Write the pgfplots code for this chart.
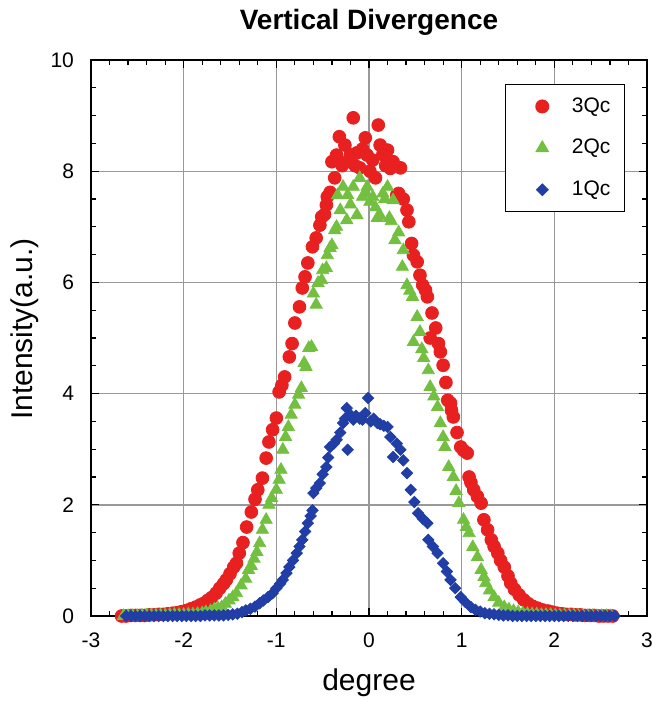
\documentclass[border=0pt]{standalone}
\usepackage{fontspec}
\setmainfont{Liberation Sans}
\usepackage{pgfplots}
\usepackage{pgfplotstable}
\pgfplotsset{compat=1.18}

\definecolor{qred}{RGB}{232,32,32}
\definecolor{qgreen}{RGB}{115,192,65}
\definecolor{qblue}{RGB}{32,62,165}

% 3Qc
\pgfplotstableread{
x y
-2.67 0.00
-2.62 0.00
-2.57 0.01
-2.52 0.01
-2.47 0.01
-2.42 0.01
-2.37 0.02
-2.32 0.02
-2.27 0.03
-2.22 0.03
-2.17 0.04
-2.12 0.05
-2.07 0.06
-2.02 0.08
-1.97 0.10
-1.92 0.13
-1.87 0.16
-1.82 0.20
-1.78 0.23
-1.74 0.28
-1.70 0.33
-1.65 0.41
-1.61 0.50
-1.57 0.58
-1.54 0.65
-1.50 0.76
-1.46 0.88
-1.43 0.95
-1.40 1.13
-1.36 1.32
-1.32 1.60
-1.27 1.87
-1.23 2.10
-1.20 2.27
-1.15 2.48
-1.11 2.84
-1.08 3.13
-1.04 3.35
-1.00 3.56
-0.97 4.03
-0.94 4.15
-0.91 4.30
-0.86 4.66
-0.83 4.90
-0.80 5.27
-0.75 5.56
-0.72 5.90
-0.69 6.10
-0.66 6.35
-0.61 6.64
-0.57 6.80
-0.53 7.03
-0.51 7.18
-0.48 7.22
-0.46 7.39
-0.45 7.54
-0.42 7.62
-0.40 8.17
-0.37 7.88
-0.35 8.29
-0.32 8.62
-0.29 8.10
-0.26 8.47
-0.24 8.17
-0.20 8.30
-0.17 8.96
-0.15 8.10
-0.13 8.33
-0.10 8.06
-0.07 8.40
-0.04 8.60
-0.02 8.29
0.01 8.00
0.04 8.20
0.07 7.88
0.10 8.83
0.12 8.47
0.15 8.30
0.18 8.10
0.20 8.38
0.23 8.05
0.26 8.17
0.30 7.57
0.32 7.60
0.34 8.06
0.37 7.50
0.41 7.30
0.43 7.09
0.46 6.70
0.48 6.49
0.52 6.37
0.55 6.13
0.58 5.95
0.61 5.86
0.63 5.74
0.66 5.00
0.68 5.45
0.72 5.18
0.75 4.90
0.77 4.75
0.80 4.51
0.83 4.20
0.85 3.88
0.88 3.83
0.89 3.70
0.91 3.58
0.95 3.30
0.99 3.04
1.02 2.98
1.06 2.93
1.08 2.50
1.10 2.40
1.13 2.27
1.17 2.15
1.21 2.03
1.24 1.73
1.28 1.55
1.32 1.37
1.35 1.25
1.39 1.13
1.42 1.00
1.46 0.88
1.50 0.72
1.53 0.59
1.57 0.48
1.62 0.38
1.67 0.29
1.72 0.22
1.77 0.17
1.82 0.14
1.87 0.11
1.93 0.09
1.98 0.07
2.03 0.05
2.08 0.04
2.13 0.03
2.18 0.03
2.23 0.02
2.28 0.02
2.33 0.01
2.38 0.01
2.43 0.01
2.48 0.00
2.53 0.00
2.58 0.00
2.63 0.00
}\tabred

% 2Qc
\pgfplotstableread{
x y
-2.65 0.00
-2.60 0.00
-2.55 0.00
-2.50 0.00
-2.45 0.01
-2.40 0.01
-2.35 0.01
-2.30 0.01
-2.25 0.01
-2.20 0.01
-2.15 0.02
-2.10 0.02
-2.05 0.02
-2.00 0.02
-1.95 0.03
-1.90 0.03
-1.85 0.04
-1.80 0.05
-1.76 0.07
-1.71 0.09
-1.67 0.12
-1.63 0.14
-1.59 0.16
-1.55 0.22
-1.51 0.28
-1.47 0.34
-1.43 0.41
-1.38 0.55
-1.33 0.67
-1.30 0.83
-1.27 0.90
-1.24 1.03
-1.21 1.15
-1.18 1.31
-1.15 1.55
-1.11 1.73
-1.08 2.00
-1.05 2.12
-1.00 2.27
-0.97 2.45
-0.95 2.63
-0.93 2.99
-0.90 3.22
-0.87 3.40
-0.84 3.62
-0.80 3.80
-0.76 3.98
-0.73 4.10
-0.70 4.55
-0.68 4.48
-0.65 4.82
-0.62 4.84
-0.60 5.80
-0.57 5.60
-0.55 5.99
-0.51 6.04
-0.50 6.22
-0.46 6.26
-0.45 6.49
-0.42 6.62
-0.40 6.67
-0.37 6.94
-0.35 7.00
-0.34 7.57
-0.31 7.30
-0.28 7.72
-0.24 7.12
-0.23 7.57
-0.20 7.40
-0.17 7.72
-0.13 7.21
-0.10 7.88
-0.07 7.54
-0.04 7.60
-0.02 7.72
0.01 7.45
0.04 7.54
0.07 7.35
0.09 7.16
0.12 7.20
0.15 7.60
0.17 7.50
0.20 7.72
0.22 7.16
0.24 7.10
0.26 7.48
0.28 6.76
0.32 6.90
0.36 6.28
0.37 6.58
0.41 5.95
0.44 5.85
0.47 5.74
0.48 4.93
0.52 5.38
0.55 5.11
0.57 4.80
0.59 4.64
0.64 4.42
0.66 4.12
0.70 3.95
0.74 3.76
0.77 3.47
0.80 3.22
0.82 3.04
0.86 2.68
0.91 2.50
0.94 2.25
0.97 2.03
1.02 1.73
1.05 1.60
1.08 1.49
1.12 1.24
1.17 1.06
1.21 0.83
1.24 0.70
1.26 0.59
1.30 0.46
1.35 0.34
1.40 0.24
1.46 0.16
1.51 0.12
1.56 0.09
1.61 0.07
1.66 0.05
1.71 0.04
1.76 0.03
1.81 0.03
1.86 0.02
1.91 0.02
1.96 0.02
2.01 0.01
2.06 0.01
2.11 0.01
2.16 0.01
2.21 0.01
2.26 0.00
2.31 0.00
2.36 0.00
2.41 0.00
2.46 0.00
2.51 0.00
2.56 0.00
2.61 0.00
}\tabgreen

% 1Qc
\pgfplotstableread{
x y
-2.62 0.00
-2.57 0.00
-2.52 0.00
-2.47 0.00
-2.42 0.00
-2.37 0.00
-2.32 0.00
-2.27 0.00
-2.22 0.00
-2.17 0.00
-2.12 0.00
-2.07 0.00
-2.02 0.00
-1.97 0.00
-1.92 0.00
-1.87 0.00
-1.82 0.00
-1.77 0.01
-1.72 0.01
-1.67 0.01
-1.62 0.01
-1.57 0.01
-1.52 0.02
-1.47 0.03
-1.42 0.04
-1.37 0.07
-1.33 0.10
-1.28 0.13
-1.23 0.17
-1.18 0.23
-1.14 0.28
-1.09 0.34
-1.04 0.41
-1.00 0.50
-0.96 0.58
-0.93 0.65
-0.89 0.77
-0.86 0.88
-0.82 1.00
-0.78 1.13
-0.75 1.25
-0.72 1.37
-0.69 1.52
-0.66 1.67
-0.63 1.80
-0.61 1.90
-0.60 2.21
-0.57 2.30
-0.53 2.39
-0.50 2.55
-0.46 2.68
-0.44 2.85
-0.42 3.04
-0.38 3.10
-0.35 3.17
-0.31 3.30
-0.28 3.47
-0.26 3.55
-0.24 3.74
-0.23 2.99
-0.20 3.62
-0.17 3.53
-0.14 3.60
-0.10 3.55
-0.07 3.53
-0.04 3.65
-0.01 3.92
0.02 3.50
0.05 3.55
0.09 3.47
0.12 3.45
0.16 3.42
0.20 3.40
0.23 3.22
0.26 2.86
0.30 3.10
0.34 2.99
0.37 2.80
0.41 2.57
0.45 2.27
0.49 2.05
0.53 1.85
0.58 1.75
0.63 1.67
0.64 1.37
0.69 1.25
0.74 1.13
0.80 0.95
0.84 0.80
0.88 0.65
0.93 0.50
0.99 0.34
1.04 0.25
1.10 0.16
1.15 0.11
1.20 0.08
1.25 0.05
1.30 0.04
1.35 0.03
1.40 0.02
1.45 0.01
1.50 0.01
1.55 0.00
1.60 0.00
1.65 0.00
1.70 0.00
1.75 0.00
1.80 0.00
1.85 0.00
1.90 0.00
1.95 0.00
2.00 0.00
2.05 0.00
2.10 0.00
2.15 0.00
2.20 0.00
2.25 0.00
2.30 0.00
2.35 0.00
2.40 0.00
2.45 0.00
2.50 0.00
2.55 0.00
2.60 0.00
2.65 0.00
}\tabblue

\begin{document}
\begin{tikzpicture}
\begin{axis}[
  name=ax,
  scale only axis,
  width=278pt, height=278pt,
  xmin=-3, xmax=3, ymin=0, ymax=10,
  xtick={-3,-2,...,3}, ytick={0,2,...,10},
  minor x tick num=4, minor y tick num=3,
  tick align=inside,
  major tick length=4pt, minor tick length=2.5pt,
  every tick/.style={black, line width=0.6pt},
  grid=major,
  major grid style={draw=black!40, line width=0.7pt},
  axis line style={line width=1pt},
  clip=false,
  /pgf/number format/assume math mode=true,
  tick label style={font=\fontsize{10.5}{12}\selectfont},
  xticklabel style={yshift=-5pt},
  yticklabel style={xshift=-5pt},
  title={Vertical Divergence},
  title style={at={(axis description cs:0.5,1)}, anchor=center, yshift=13pt,
    font=\bfseries\fontsize{14}{16}\selectfont},
  xlabel={degree},
  xlabel style={at={(axis description cs:0.5,0)}, anchor=center, yshift=-33.5pt,
    font=\fontsize{15}{18}\selectfont},
  ylabel={Intensity(a.u.)},
  ylabel style={at={(axis description cs:0,0.516)}, anchor=center, yshift=33pt,
    font=\fontsize{15}{18}\selectfont},
  legend image code/.code={\draw[#1] plot coordinates {(13pt,0pt)}; \path (0pt,0pt) (25.5pt,0pt);},
  legend style={at={(axis description cs:1,1)}, anchor=north east,
    xshift=-11pt, yshift=-12pt, draw=black, line width=0.6pt,
    inner xsep=5pt, inner ysep=4.5pt, row sep=8pt,
    font=\fontsize{10.5}{12}\selectfont, cells={anchor=west}},
]
\addplot[only marks, mark=*, mark size=3.2pt, color=qred] table {\tabred};
\addlegendentry{3Qc}
\addplot[only marks, mark=triangle*, mark size=3.5pt, color=qgreen] table {\tabgreen};
\addlegendentry{2Qc}
\addplot[only marks, mark=square*, mark size=2pt, mark options={rotate=45}, color=qblue] table {\tabblue};
\addlegendentry{1Qc}
\end{axis}
\pgfresetboundingbox
\path ([xshift=-45.5pt,yshift=-43.5pt]ax.south west) rectangle ++(326pt,351.5pt);
\end{tikzpicture}
\end{document}
